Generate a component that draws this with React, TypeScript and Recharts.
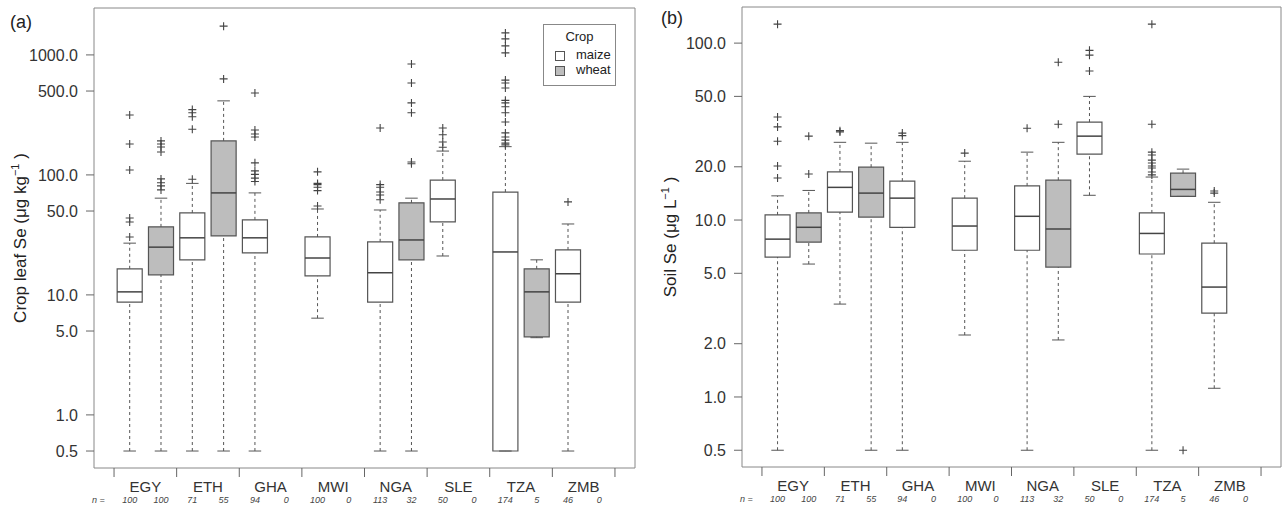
import React from "react";
import { ComposedChart, XAxis, YAxis, Scatter, ReferenceArea, ReferenceLine, Legend } from "recharts";

type Stat = number[] | null;

const countries = ["EGY", "ETH", "GHA", "MWI", "NGA", "SLE", "TZA", "ZMB"];
const nMaize = [100, 71, 94, 100, 113, 50, 174, 46];
const nWheat = [100, 55, 0, 0, 32, 0, 5, 0];

const leafTicks = [0.5, 1, 5, 10, 50, 100, 500, 1000];
const soilTicks = [0.5, 1, 2, 5, 10, 20, 50, 100];

// [lower whisker, Q1, median, Q3, upper whisker]
const leafMaize: Stat[] = [
    [0.5, 8.7, 10.6, 16.5, 27],
    [0.5, 19.6, 29.9, 48.2, 85],
    [0.5, 22.4, 29.9, 42.2, 70.8],
    [6.4, 14.4, 20.3, 30.4, 52],
    [0.5, 8.7, 15.3, 27.7, 51],
    [21.1, 40.6, 63, 90.6, 158],
    [0.5, 0.5, 22.8, 72, 172],
    [0.5, 8.7, 15, 23.7, 39],
];
const leafWheat: Stat[] = [
    [0.5, 14.7, 25, 36.9, 64],
    [0.5, 31, 70.8, 192, 414],
    null,
    null,
    [0.5, 19.6, 28.7, 58.5, 64],
    null,
    [4.4, 4.47, 10.6, 16.5, 19.6],
    null,
];
const leafMaizeOut = [
    [316, 181, 110, 43.8, 40.5, 30.4],
    [350, 330, 305, 240, 92],
    [482, 237, 219, 207, 126, 108, 101, 94, 88],
    [106, 85, 83, 79, 74, 55],
    [246, 83, 79, 72, 68, 62],
    [246, 216, 188, 170],
    [1525, 1360, 1189, 1039, 617, 584, 530, 418, 398, 370, 330, 276, 224, 207, 195, 184, 178],
    [59.6],
];
const leafWheatOut = [
    [192, 181, 171, 155, 92.6, 86, 81, 75],
    [1737, 631],
    [],
    [],
    [841, 584, 398, 330, 128, 124],
    [],
    [],
    [],
];

const soilMaize: Stat[] = [
    [0.5, 6.18, 7.8, 10.7, 13.7],
    [3.35, 11.1, 15.3, 18.7, 27.5],
    [0.5, 9.1, 13.3, 16.6, 27.5],
    [2.24, 6.75, 9.25, 13.3, 21.5],
    [0.5, 6.75, 10.5, 15.6, 24.2],
    [13.8, 23.6, 29.8, 35.8, 50],
    [0.5, 6.43, 8.4, 10.97, 17.5],
    [1.12, 2.98, 4.18, 7.4, 12.6],
];
const soilWheat: Stat[] = [
    [5.64, 7.5, 9.1, 10.97, 14.7],
    [0.5, 10.4, 14.2, 19.9, 27.2],
    null,
    null,
    [2.1, 5.42, 8.9, 16.8, 27.5],
    null,
    [13.6, 13.6, 14.9, 18.4, 19.4],
    null,
];
const soilMaizeOut = [
    [128, 38.2, 33.6, 27.9, 20.2, 17.3],
    [32, 31.5],
    [31, 30],
    [23.9],
    [33],
    [91, 85.5, 69.5],
    [128, 34.8, 24.2, 23.3, 21.8, 21, 20.2, 19.7, 18.7, 18],
    [14.6, 14.2],
];
const soilWheatOut = [[29.8, 18.2], [], [], [], [78, 34.8], [], [0.5], []];

const LINE = "#555";
const WHEAT = "#bdbdbd";
const FONT = '"Liberation Sans", Arial, sans-serif';
const X_DOMAIN = [-0.14, 17.14];
const LEAF_DOMAIN = [0.361, 2460];
const SOIL_DOMAIN = [0.402, 160];

const xTicks = [0, ...countries.flatMap((_, c) => [2 * c + 0.5, 2 * c + 1, 2 * c + 1.5, 2 * c + 2]), 16.5];

const buildBoxes = (maize: Stat[], wheat: Stat[]) => {
    const out: { slot: number; wheat: boolean; stat: number[] }[] = [];
    countries.forEach((_, c) => {
        if (maize[c]) out.push({ slot: 2 * c + 1, wheat: false, stat: maize[c] as number[] });
        if (wheat[c]) out.push({ slot: 2 * c + 2, wheat: true, stat: wheat[c] as number[] });
    });
    return out;
};

const buildOutliers = (maize: number[][], wheat: number[][]) =>
    countries.flatMap((_, c) => [
        ...maize[c].map((y) => ({ x: 2 * c + 1, y })),
        ...wheat[c].map((y) => ({ x: 2 * c + 2, y })),
    ]);

const boxElements = (maize: Stat[], wheat: Stat[]) =>
    buildBoxes(maize, wheat).flatMap((b) => {
        const [lo, q1, med, q3, hi] = b.stat;
        const s = b.slot;
        const k = `b${s}`;
        return [
            <ReferenceLine key={k + "wl"} segment={[{ x: s, y: lo }, { x: s, y: q1 }]} stroke={LINE} strokeDasharray="3 3" ifOverflow="visible" />,
            <ReferenceLine key={k + "wh"} segment={[{ x: s, y: q3 }, { x: s, y: hi }]} stroke={LINE} strokeDasharray="3 3" ifOverflow="visible" />,
            <ReferenceLine key={k + "cl"} segment={[{ x: s - 0.2, y: lo }, { x: s + 0.2, y: lo }]} stroke={LINE} ifOverflow="visible" />,
            <ReferenceLine key={k + "ch"} segment={[{ x: s - 0.2, y: hi }, { x: s + 0.2, y: hi }]} stroke={LINE} ifOverflow="visible" />,
            <ReferenceArea key={k + "box"} x1={s - 0.4} x2={s + 0.4} y1={q1} y2={q3} fill={b.wheat ? WHEAT : "#fff"} fillOpacity={1} stroke={LINE} strokeWidth={1.2} ifOverflow="visible" />,
            <ReferenceLine key={k + "med"} segment={[{ x: s - 0.4, y: med }, { x: s + 0.4, y: med }]} stroke="#444" strokeWidth={1.5} ifOverflow="visible" />,
        ];
    });

const Cross = (props: any) => {
    const { cx, cy } = props;
    return <path d={`M${cx - 4},${cy}h8M${cx},${cy - 4}v8`} stroke="#444" strokeWidth={1.1} fill="none" />;
};

const XTick = (props: any) => {
    const { x, y, payload } = props;
    const v = payload.value as number;
    if (v === 0) {
        return (
            <text x={x} y={y + 35} textAnchor="middle" fontSize={9} fontStyle="italic" fill="#444">
                n =
            </text>
        );
    }
    if (Number.isInteger(v)) {
        const c = Math.floor((v - 1) / 2);
        const n = v % 2 === 1 ? nMaize[c] : nWheat[c];
        return (
            <text x={x} y={y + 35} textAnchor="middle" fontSize={9} fontStyle="italic" fill="#444">
                {n}
            </text>
        );
    }
    if ((v - 0.5) % 2 === 0) {
        return <line x1={x} x2={x} y1={y} y2={y + 9} stroke="#666" />;
    }
    return (
        <text x={x} y={y + 24} textAnchor="middle" fontSize={15} fill="#333">
            {countries[(v - 1.5) / 2]}
        </text>
    );
};

const YTitle = (x: number, y: number, main: string, letter: string, lx: number, ly: number) => () =>
    (
        <g>
            <text x={lx} y={ly} fontSize={18} fill="#222">
                {letter}
            </text>
            <text x={x} y={y} transform={`rotate(-90, ${x}, ${y})`} textAnchor="middle" fontSize={17} fill="#222">
                {main}
                <tspan dy={-7} fontSize={11}>
                    −1
                </tspan>
                <tspan dy={7}> )</tspan>
            </text>
        </g>
    );

const CropLegend = () => (
    <div
        style={{
            position: "relative",
            width: 73,
            height: 62,
            border: "1px solid #888",
            boxSizing: "border-box",
            background: "#fff",
            fontSize: 13,
            color: "#222",
            fontFamily: FONT,
        }}
    >
        <div style={{ position: "absolute", top: 4, width: "100%", textAlign: "center" }}>Crop</div>
        <div style={{ position: "absolute", left: 11, top: 26, width: 8, height: 8, border: "1px solid #555", background: "#fff" }} />
        <div style={{ position: "absolute", left: 32, top: 22 }}>maize</div>
        <div style={{ position: "absolute", left: 11, top: 41, width: 8, height: 8, border: "1px solid #555", background: WHEAT }} />
        <div style={{ position: "absolute", left: 32, top: 37 }}>wheat</div>
    </div>
);

const tickStyle = { fontSize: 16, fill: "#333" };

export default function App() {
    const leafOut = buildOutliers(leafMaizeOut, leafWheatOut);
    const soilOut = buildOutliers(soilMaizeOut, soilWheatOut);
    return (
        <div style={{ position: "absolute", left: 0, top: 0, width: 1282, height: 510, background: "#fff", fontFamily: FONT }}>
            <div style={{ position: "absolute", left: 0, top: 0 }}>
                <ComposedChart width={640} height={510} margin={{ top: 8, right: 5, left: 0, bottom: 0 }}>
                    <XAxis type="number" dataKey="x" domain={X_DOMAIN} allowDataOverflow ticks={xTicks} interval={0} tick={<XTick />} tickLine={false} axisLine={false} tickSize={0} tickMargin={0} height={42} />
                    <YAxis
                        type="number"
                        dataKey="y"
                        scale="log"
                        domain={LEAF_DOMAIN}
                        allowDataOverflow
                        ticks={leafTicks}
                        interval={0}
                        tickFormatter={(v) => Number(v).toFixed(1)}
                        width={94}
                        axisLine={false}
                        tickSize={8}
                        tickMargin={8}
                        tickLine={{ stroke: "#666" }}
                        tick={tickStyle}
                        label={YTitle(26, 238, "Crop leaf Se (μg kg", "(a)", 10, 28)}
                    />
                    <ReferenceArea y1={LEAF_DOMAIN[0]} y2={LEAF_DOMAIN[1]} fill="none" stroke="#888" ifOverflow="visible" />
                    {boxElements(leafMaize, leafWheat)}
                    <Scatter name="outliers" data={leafOut} dataKey="y" shape={<Cross />} isAnimationActive={false} legendType="none" />
                    <Legend layout="vertical" align="center" verticalAlign="middle" wrapperStyle={{ left: 543, top: 24, width: 73 }} content={<CropLegend />} />
                </ComposedChart>
            </div>
            <div style={{ position: "absolute", left: 640, top: 0 }}>
                <ComposedChart width={642} height={510} margin={{ top: 7, right: 1, left: 0, bottom: 0 }}>
                    <XAxis type="number" dataKey="x" domain={X_DOMAIN} allowDataOverflow ticks={xTicks} interval={0} tick={<XTick />} tickLine={false} axisLine={false} tickSize={0} tickMargin={0} height={43} />
                    <YAxis
                        type="number"
                        dataKey="y"
                        scale="log"
                        domain={SOIL_DOMAIN}
                        allowDataOverflow
                        ticks={soilTicks}
                        interval={0}
                        tickFormatter={(v) => Number(v).toFixed(1)}
                        width={102}
                        axisLine={false}
                        tickSize={8}
                        tickMargin={8}
                        tickLine={{ stroke: "#666" }}
                        tick={tickStyle}
                        label={YTitle(36, 237, "Soil Se (μg L", "(b)", 21, 24)}
                    />
                    <ReferenceArea y1={SOIL_DOMAIN[0]} y2={SOIL_DOMAIN[1]} fill="none" stroke="#888" ifOverflow="visible" />
                    {boxElements(soilMaize, soilWheat)}
                    <Scatter name="outliers" data={soilOut} dataKey="y" shape={<Cross />} isAnimationActive={false} legendType="none" />
                </ComposedChart>
            </div>
        </div>
    );
}
